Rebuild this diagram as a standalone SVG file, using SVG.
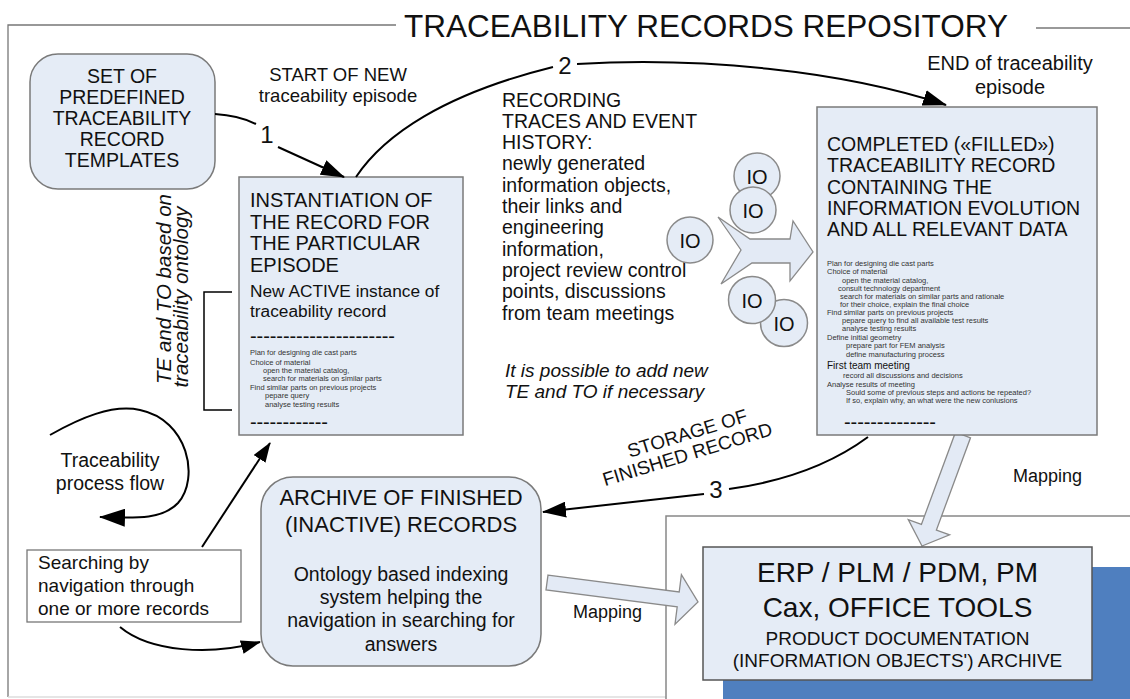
<svg xmlns="http://www.w3.org/2000/svg" width="1130" height="699" viewBox="0 0 1130 699">
  <defs>
    <style>
      .t { font-family: "Liberation Sans", Arial, sans-serif; fill: #111; }
      .it { font-style: italic; }
      .sm { font-size: 7.5px; fill: #333; }
      .box { fill: #e5ecf6; stroke: #7a7a7a; stroke-width: 1.5; }
      .io { fill: #e5ecf6; stroke: #8a8a8a; stroke-width: 1.5; }
      .blk { fill: #e3eaf5; stroke: #8a8a8a; stroke-width: 1.3; }
      .conn { fill: none; stroke: #000; stroke-width: 2; }
      .frame { fill: none; stroke: #777; stroke-width: 1.3; }
    </style>
    <marker id="ah" viewBox="0 0 24 16" refX="23" refY="8" markerWidth="24" markerHeight="16" markerUnits="userSpaceOnUse" orient="auto">
      <path d="M0,0 L24,8 L0,16 z" fill="#000"/>
    </marker>
    <marker id="ahs" viewBox="0 0 20 14" refX="19" refY="7" markerWidth="20" markerHeight="14" markerUnits="userSpaceOnUse" orient="auto">
      <path d="M0,0 L20,7 L0,14 z" fill="#000"/>
    </marker>
    <marker id="ahb" viewBox="0 0 26 18" refX="25" refY="9" markerWidth="26" markerHeight="18" markerUnits="userSpaceOnUse" orient="auto">
      <path d="M0,0 L26,9 L0,18 z" fill="#000"/>
    </marker>
  </defs>

  <rect width="1130" height="699" fill="#fff"/>

  <!-- repository frame and title -->
  <g id="repository">
    <path class="frame" d="M396,25 H8 V697"/>
    <path d="M8,697 H666" stroke="#ddd" stroke-width="1.3" fill="none"/>
    <path class="frame" d="M1036,28 H1130"/>
    <text class="t" x="404" y="37" font-size="31.5">TRACEABILITY RECORDS REPOSITORY</text>
  </g>

  <!-- external systems area -->
  <g id="external-systems">
    <rect x="666" y="516" width="470" height="190" fill="#fff" stroke="#888" stroke-width="1.5"/>
    <rect x="723" y="567" width="410" height="135" fill="#4f7fbf"/>
  </g>

  <!-- block arrows (mapping and IO flow) -->
  <g id="mapping-arrows">
    <polygon class="blk" points="955.5,432.2 970.5,437.8 936.4,530 949.6,534.8 922,546 908.3,519.6 921.4,524.4"/>
    <polygon class="blk" points="548,575.1 679.2,592 681.4,574.6 698,602 675,624.2 677.2,606.8 546,589.9"/>
    <polygon class="blk" points="718,217 750,239 790,239 793,221 813,252 790,281 790,263 752,263 721,284 741,250"/>
  </g>

  <!-- nodes -->
  <g id="templates">
    <rect class="box" x="30" y="54" width="185" height="135" rx="28"/>
    <g class="t" font-size="19.5" text-anchor="middle">
      <text x="122" y="83">SET OF</text>
      <text x="122" y="104">PREDEFINED</text>
      <text x="122" y="125">TRACEABILITY</text>
      <text x="122" y="146">RECORD</text>
      <text x="122" y="167">TEMPLATES</text>
    </g>
  </g>

  <g id="instantiation">
    <rect class="box" x="239" y="177" width="224" height="258"/>
    <g class="t" font-size="20">
      <text x="250" y="207">INSTANTIATION OF</text>
      <text x="250" y="228.5">THE RECORD FOR</text>
      <text x="250" y="250">THE PARTICULAR</text>
      <text x="250" y="271.5">EPISODE</text>
    </g>
    <g class="t" font-size="17.3">
      <text x="250" y="297">New ACTIVE instance of</text>
      <text x="250" y="317">traceability record</text>
    </g>
    <text class="t" x="250" y="342.5" font-size="20" textLength="145" lengthAdjust="spacing">----------------------</text>
    <g class="t sm">
      <text x="250" y="355">Plan for designing die cast parts</text>
      <text x="250" y="364.5">Choice of material</text>
      <text x="263" y="372.5">open the material catalog,</text>
      <text x="263" y="381">search for materials on similar parts</text>
      <text x="250" y="389.5">Find similar parts on previous projects</text>
      <text x="265" y="398">pepare query</text>
      <text x="265" y="406.5">analyse testing results</text>
    </g>
    <text class="t" x="250" y="428.5" font-size="20" textLength="78" lengthAdjust="spacing">------------</text>
  </g>

  <g id="ontology-note">
    <path d="M232,292 H204 V410 H232" fill="none" stroke="#000" stroke-width="1.5"/>
    <text class="t it" transform="translate(171,289) rotate(-90)" font-size="20.5" text-anchor="middle">TE and TO based on</text>
    <text class="t it" transform="translate(188,297) rotate(-90)" font-size="20.5" text-anchor="middle">traceability ontology</text>
  </g>

  <g id="recording-note">
    <g class="t" font-size="19.5">
      <text x="502" y="107">RECORDING</text>
      <text x="502" y="128">TRACES AND EVENT</text>
      <text x="502" y="149">HISTORY:</text>
      <text x="502" y="170">newly generated</text>
      <text x="502" y="192">information objects,</text>
      <text x="502" y="213">their links and</text>
      <text x="502" y="234">engineering</text>
      <text x="502" y="256">information,</text>
      <text x="502" y="277">project review control</text>
      <text x="502" y="298">points, discussions</text>
      <text x="502" y="320">from team meetings</text>
    </g>
    <g class="t it" font-size="19">
      <text x="505" y="377">It is possible to add new</text>
      <text x="505" y="398">TE and TO if necessary</text>
    </g>
  </g>

  <g id="information-objects">
    <circle class="io" cx="690" cy="240" r="23"/>
    <text class="t" x="690" y="247.5" font-size="20" text-anchor="middle">IO</text>
    <circle class="io" cx="757" cy="176" r="23"/>
    <text class="t" x="757" y="183.5" font-size="20" text-anchor="middle">IO</text>
    <circle class="io" cx="753" cy="210" r="23"/>
    <text class="t" x="753" y="217.5" font-size="20" text-anchor="middle">IO</text>
    <circle class="io" cx="784" cy="323" r="23.5"/>
    <text class="t" x="784" y="331" font-size="20" text-anchor="middle">IO</text>
    <circle class="io" cx="752" cy="300" r="23.5"/>
    <text class="t" x="752" y="307.5" font-size="20" text-anchor="middle">IO</text>
  </g>

  <g id="completed">
    <rect class="box" x="817" y="107" width="280" height="328"/>
    <g class="t" font-size="19.5">
      <text x="827" y="151">COMPLETED («FILLED»)</text>
      <text x="827" y="172">TRACEABILITY RECORD</text>
      <text x="827" y="194">CONTAINING THE</text>
      <text x="827" y="215">INFORMATION EVOLUTION</text>
      <text x="827" y="236">AND ALL RELEVANT DATA</text>
    </g>
    <g class="t sm">
      <text x="827" y="266">Plan for designing die cast parts</text>
      <text x="827" y="274">Choice of material</text>
      <text x="842" y="282.5">open the material catalog,</text>
      <text x="838" y="290.5">consult technology department</text>
      <text x="840" y="298.5">search for materials on similar parts and rationale</text>
      <text x="840" y="306.5">for their choice,  explain the final choice</text>
      <text x="827" y="314.5">Find similar parts on previous projects</text>
      <text x="842" y="323">pepare query to find all available test results</text>
      <text x="842" y="331">analyse testing results</text>
      <text x="827" y="339.5">Define initial geometry</text>
      <text x="846" y="348">prepare part for FEM analysis</text>
      <text x="846" y="356.5">define manufacturing process</text>
      <text x="843" y="378">record all discussions and decisions</text>
      <text x="827" y="386.5">Analyse results of meeting</text>
      <text x="846" y="395">Sould some of previous steps and actions be repeated?</text>
      <text x="846" y="403">If so, explain why, an what were the new conlusions</text>
    </g>
    <text class="t" x="827" y="369" font-size="10">First team meeting</text>
    <text class="t" x="844" y="429" font-size="20" textLength="92" lengthAdjust="spacing">--------------</text>
  </g>

  <g id="archive">
    <rect class="box" x="261" y="477" width="280" height="189" rx="32"/>
    <g class="t" text-anchor="middle">
      <text x="401" y="505" font-size="22">ARCHIVE OF FINISHED</text>
      <text x="401" y="532" font-size="22">(INACTIVE) RECORDS</text>
      <text x="401" y="581" font-size="19.5">Ontology based indexing</text>
      <text x="401" y="604" font-size="19.5">system helping the</text>
      <text x="401" y="627" font-size="19.5">navigation in searching for</text>
      <text x="401" y="651" font-size="19.5">answers</text>
    </g>
  </g>

  <g id="searching">
    <rect x="27" y="550" width="214" height="72" fill="#fff" stroke="#777" stroke-width="1.3"/>
    <g class="t" font-size="19">
      <text x="38" y="569">Searching by</text>
      <text x="38" y="592">navigation through</text>
      <text x="38" y="615">one or more records</text>
    </g>
  </g>

  <g id="erp">
    <rect x="703" y="547" width="389" height="133" fill="#e5ecf6" stroke="#555" stroke-width="1.5"/>
    <g class="t" text-anchor="middle">
      <text x="897.5" y="582" font-size="28">ERP / PLM / PDM, PM</text>
      <text x="897.5" y="617" font-size="28">Cax, OFFICE TOOLS</text>
      <text x="897.5" y="645" font-size="19">PRODUCT DOCUMENTATION</text>
      <text x="897.5" y="667" font-size="19">(INFORMATION OBJECTS') ARCHIVE</text>
    </g>
  </g>

  <!-- connectors -->
  <g id="connectors">
    <path class="conn" d="M215,114 C232,115 244,118 256,124"/>
    <path class="conn" d="M278,147 L344,177" marker-end="url(#ah)"/>
    <path class="conn" d="M356,177 C384,135 444,94 553,67"/>
    <path class="conn" d="M577,64 C700,57 840,70 946,105" marker-end="url(#ah)"/>
    <path class="conn" d="M868,437 C830,465 780,482 729,489"/>
    <path class="conn" d="M704,494 C650,500 600,506 543,512" marker-end="url(#ah)"/>
    <path class="conn" d="M202,547 L270,443" marker-end="url(#ahs)"/>
    <path class="conn" d="M120,627 C150,652 210,656 260,642" marker-end="url(#ahs)"/>
    <path class="conn" stroke-width="3" d="M50,435 C80,418 112,404 140,410 C188,420 200,478 178,503 C162,520 135,518 100,517" marker-end="url(#ahb)"/>
  </g>

  <!-- connector labels -->
  <g id="labels" class="t">
    <text x="267" y="143" font-size="24" text-anchor="middle">1</text>
    <text x="565" y="74" font-size="24" text-anchor="middle">2</text>
    <text x="716" y="498" font-size="24" text-anchor="middle">3</text>
    <text x="338" y="81" font-size="18.5" text-anchor="middle">START OF NEW</text>
    <text x="338" y="102" font-size="18.5" text-anchor="middle">traceability episode</text>
    <text x="1010" y="70" font-size="20" text-anchor="middle">END of traceability</text>
    <text x="1010" y="94" font-size="20" text-anchor="middle">episode</text>
    <g transform="translate(686,450) rotate(-17)" font-size="19" text-anchor="middle">
      <text x="6" y="-9">STORAGE OF</text>
      <text x="0" y="11">FINISHED RECORD</text>
    </g>
    <text x="110" y="467" font-size="19.5" text-anchor="middle">Traceability</text>
    <text x="110" y="490" font-size="19.5" text-anchor="middle">process flow</text>
    <text x="573" y="618" font-size="18">Mapping</text>
    <text x="1013" y="482" font-size="18">Mapping</text>
  </g>
</svg>
